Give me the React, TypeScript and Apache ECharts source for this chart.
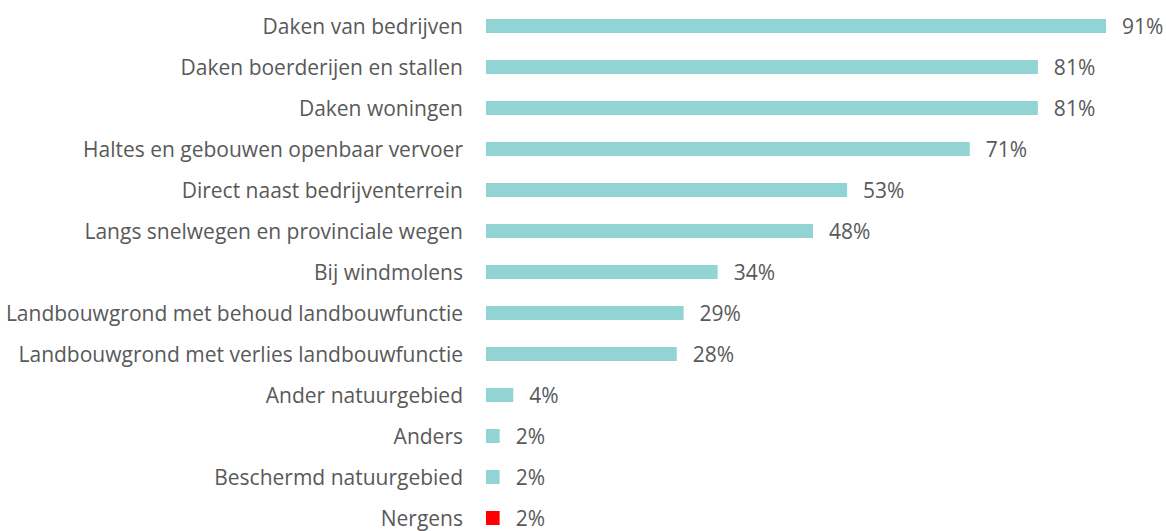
import React, { useEffect, useRef } from "react";
import * as echarts from "echarts";

const categories = [
  "Daken van bedrijven",
  "Daken boerderijen en stallen",
  "Daken woningen",
  "Haltes en gebouwen openbaar vervoer",
  "Direct naast bedrijventerrein",
  "Langs snelwegen en provinciale wegen",
  "Bij windmolens",
  "Landbouwgrond met behoud landbouwfunctie",
  "Landbouwgrond met verlies landbouwfunctie",
  "Ander natuurgebied",
  "Anders",
  "Beschermd natuurgebied",
  "Nergens",
];
const values = [91, 81, 81, 71, 53, 48, 34, 29, 28, 4, 2, 2, 2];
const highlight = ["Nergens"];

const BAR = "#92D3D3";
const RED = "#FF0000";
const TEXT = "#595959";
const FONT = "Open Sans";

export default function App() {
  const ref = useRef<HTMLDivElement>(null);
  useEffect(() => {
    const chart = echarts.init(ref.current!, null, { renderer: "svg" });
    chart.setOption({
      animation: false,
      grid: { left: 486, right: 60, top: 5.5, bottom: 6.5, containLabel: false },
      xAxis: { type: "value", min: 0, max: 91, show: false },
      yAxis: {
        type: "category",
        inverse: true,
        data: categories,
        axisLine: { show: false },
        axisTick: { show: false },
        axisLabel: { color: TEXT, fontFamily: FONT, fontSize: 21, margin: 23 },
      },
      series: [
        {
          type: "bar",
          barWidth: 14,
          data: categories.map((c, i) => ({
            value: values[i],
            itemStyle: { color: highlight.includes(c) ? RED : BAR },
          })),
          label: {
            show: true,
            position: "right",
            distance: 16,
            formatter: "{c}%",
            color: TEXT,
            fontFamily: FONT,
            fontSize: 21,
          },
        },
      ],
    });
    return () => chart.dispose();
  }, []);
  return (
    <div
      style={{
        position: "fixed",
        left: 0,
        top: 0,
        width: 1166,
        height: 531,
        overflow: "hidden",
        background: "#fff",
      }}
    >
      <div ref={ref} style={{ width: 1166, height: 545 }} />
    </div>
  );
}
